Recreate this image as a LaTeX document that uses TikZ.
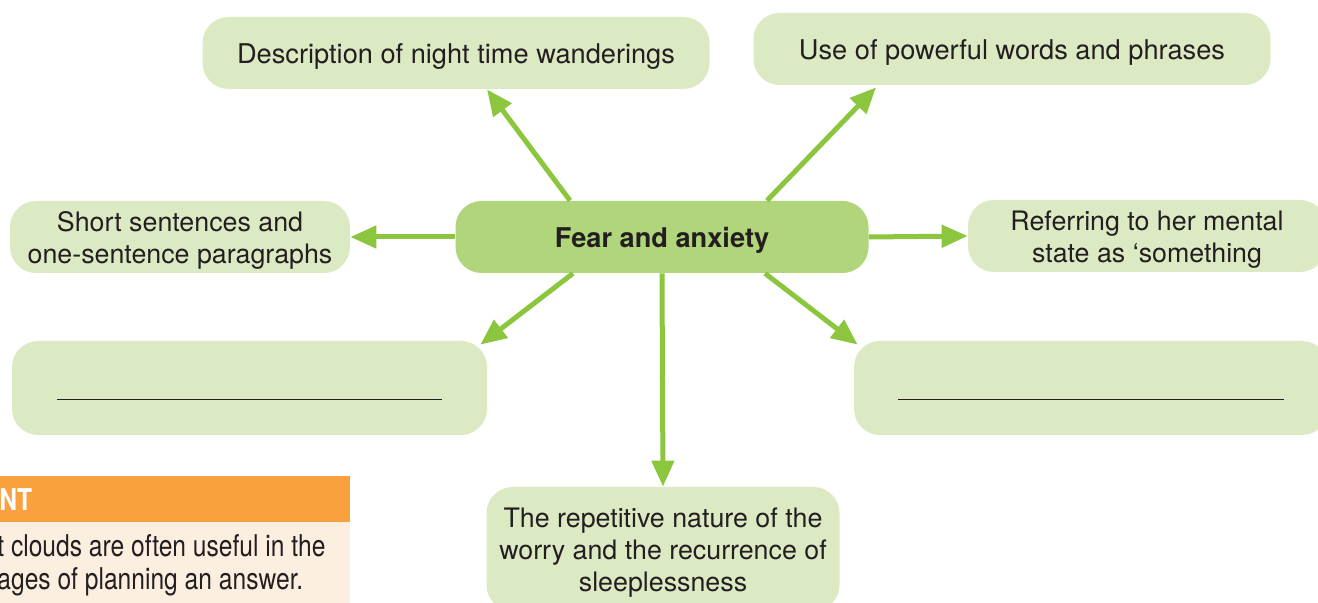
\documentclass[tikz,border=0pt]{standalone}
\usepackage{fontspec}
\setmainfont{TeX Gyre Heros}
\newfontfamily\condfont[FakeStretch=0.82]{TeX Gyre Heros}
\usetikzlibrary{arrows.meta,calc,positioning}
\definecolor{leaf}{HTML}{DCEAC4}
\definecolor{hub}{HTML}{B0D57A}
\definecolor{stem}{HTML}{8CC63F}
\definecolor{ink}{HTML}{231F20}
\definecolor{tipbar}{HTML}{F9A03F}
\definecolor{tipbody}{HTML}{FDEFE0}
\newcommand\headroom{\rule{0pt}{13pt}}
\tikzset{spoke/.style={line width=2.5pt, stem, -{Triangle[length=13pt,width=11pt]}},
  cloud/.style={fill=leaf, rounded corners=13pt, align=center, text=ink, inner ysep=1pt,
    minimum height=36pt, font=\fontsize{13.6}{16}\selectfont}}

\begin{document}
\begin{tikzpicture}[x=0.5pt, y=-0.5pt]
  \useasboundingbox (0,0) rectangle (1318,603);
  \node[cloud, fill=hub, minimum width=206.5pt, font=\fontsize{13.6}{16}\selectfont\bfseries] (fear) at (662,237) {\headroom Fear and anxiety};
  \node[cloud, minimum width=253.5pt] (desc) at (456,53) {\headroom Description of night time wanderings};
  \node[cloud, minimum width=258.5pt] (words) at (1012,49) {\headroom Use of powerful words and phrases};
  \node[cloud, minimum width=170pt, font=\fontsize{13.4}{16}\selectfont] (short) at (180,237) {\headroom Short sentences and\\one-sentence paragraphs};
  \node[cloud, minimum width=179pt, font=\fontsize{13.4}{16}\selectfont] (mental) at (1147,236) {\headroom Referring to her mental\\state as `something};
  % blanks to fill in
  \node[cloud, minimum width=237.5pt, minimum height=47pt] (blankL) at (249.5,388) {\strut\rule[-3pt]{192.5pt}{0.6pt}};
  \node[cloud, minimum width=237pt, minimum height=47pt] (blankR) at (1091,388) {\strut\rule[-3pt]{193pt}{0.6pt}};
  \node[cloud, minimum width=176.5pt, minimum height=62pt, font=\fontsize{13.4}{16}\selectfont] (repeat) at (663,549) {\headroom The repetitive nature of the\\worry and the recurrence of\\sleeplessness};
  % spokes
  \draw[spoke] ($(fear.north)+(-92,0)$) -- ($(desc.south)+(31,0)$);
  \draw[spoke] ($(fear.north)+(105,0)$) -- ($(words.south)+(-136,2)$);
  \draw[spoke] (fear.west) -- (short.east);
  \draw[spoke] (fear.east) -- (mental.west);
  \draw[spoke] ($(fear.south)+(-89,0)$) -- ($(blankL.north east)+(-7,4)$);
  \draw[spoke] ($(fear.south)+(103,0)$) -- ($(blankR.north west)+(4,4)$);
  \draw[spoke] (fear.south) -- (repeat.north);
  % hint panel, cut at the page edge
  \fill[tipbar] (-20,476) rectangle (350,522);
  \fill[tipbody] (-20,522) rectangle (350,610);
  \node[anchor=west, text=white, font=\condfont\fontsize{15}{16}\selectfont\bfseries, inner sep=0pt] (hint) at (-1,500) {NT};
  \node[anchor=west, align=left, text=ink, font=\condfont\fontsize{15}{16.5}\selectfont, inner sep=0pt] (hinttext) at (-3,565) {t clouds are often useful in the\\ages of planning an answer.};
\end{tikzpicture}
\end{document}
